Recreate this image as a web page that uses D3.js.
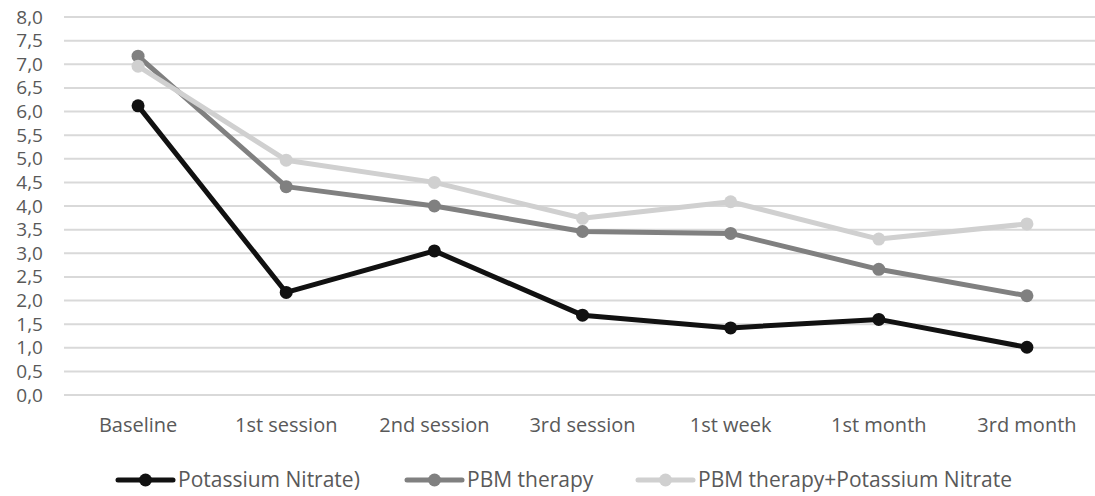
<!DOCTYPE html>
<html>
<head>
<meta charset="utf-8">
<script src="https://cdn.jsdelivr.net/npm/d3@7"></script>
<style>
  html, body { margin: 0; padding: 0; background: #ffffff; }
  svg { display: block; }
  text { font-family: "Open Sans", "Liberation Sans", sans-serif; fill: #595959; }
</style>
</head>
<body>
<svg id="chart" width="1095" height="496"></svg>
<script>
// Time points of the follow-up
const categories = ["Baseline", "1st session", "2nd session", "3rd session", "1st week", "1st month", "3rd month"];

// Mean scores per group
const potassiumNitrate = [6.12, 2.17, 3.05, 1.69, 1.42, 1.60, 1.01];
const pbmTherapy = [7.17, 4.41, 4.00, 3.46, 3.42, 2.66, 2.10];
const pbmPlusPotassium = [6.96, 4.97, 4.50, 3.74, 4.09, 3.30, 3.62];

const seriesNames = ["Potassium Nitrate)", "PBM therapy", "PBM therapy+Potassium Nitrate"];
const yTicks = [0, 0.5, 1, 1.5, 2, 2.5, 3, 3.5, 4, 4.5, 5, 5.5, 6, 6.5, 7, 7.5, 8];

const series = [
  { name: seriesNames[0], values: potassiumNitrate, color: "#111111" },
  { name: seriesNames[1], values: pbmTherapy, color: "#808080" },
  { name: seriesNames[2], values: pbmPlusPotassium, color: "#d0d0d0" }
];

const svg = d3.select("#chart");
const plotLeft = 64, plotRight = 1101, plotTop = 17, plotBottom = 395;

const x = d3.scaleBand().domain(categories).range([plotLeft, plotRight]);
const y = d3.scaleLinear().domain([0, 8]).range([plotBottom, plotTop]);
const fmt = v => d3.format(".1f")(v).replace(".", ",");

// Horizontal gridlines
svg.append("g")
  .selectAll("line")
  .data(yTicks)
  .join("line")
  .attr("x1", plotLeft).attr("x2", plotRight)
  .attr("y1", d => y(d)).attr("y2", d => y(d))
  .attr("stroke", "#d9d9d9")
  .attr("stroke-width", 2);

// Y axis labels
const yAxis = svg.append("g")
  .attr("transform", `translate(43,0)`)
  .call(d3.axisLeft(y).tickValues(yTicks).tickFormat(fmt).tickSize(0).tickPadding(0));
yAxis.select(".domain").remove();
yAxis.selectAll("text")
  .attr("font-size", 19)
  .attr("font-family", "'Open Sans', sans-serif")
  .attr("fill", "#595959");

// X axis labels
const xAxis = svg.append("g")
  .attr("transform", `translate(0,${plotBottom})`)
  .call(d3.axisBottom(x).tickSize(0).tickPadding(23));
xAxis.select(".domain").remove();
xAxis.selectAll("text")
  .attr("font-size", 20)
  .attr("font-family", "'Open Sans', sans-serif")
  .attr("fill", "#595959");

const line = d3.line()
  .x((d, i) => x(categories[i]) + x.bandwidth() / 2)
  .y(d => y(d));

// Series lines and markers
const groups = svg.append("g").selectAll("g")
  .data(series)
  .join("g");

groups.append("path")
  .attr("d", d => line(d.values))
  .attr("fill", "none")
  .attr("stroke", d => d.color)
  .attr("stroke-width", 5)
  .attr("stroke-linejoin", "round");

groups.each(function (s) {
  d3.select(this).selectAll("circle")
    .data(s.values)
    .join("circle")
    .attr("cx", (d, i) => x(categories[i]) + x.bandwidth() / 2)
    .attr("cy", d => y(d))
    .attr("r", 6.5)
    .attr("fill", s.color);
});

// Legend
const legendX = [118, 407, 638];
const legendY = 480;
const legend = svg.append("g").selectAll("g")
  .data(series)
  .join("g")
  .attr("transform", (d, i) => `translate(${legendX[i]},${legendY})`);

legend.append("line")
  .attr("x1", 0).attr("x2", 55)
  .attr("y1", 0).attr("y2", 0)
  .attr("stroke", d => d.color)
  .attr("stroke-width", 5)
  .attr("stroke-linecap", "round");
legend.append("circle")
  .attr("cx", 27.5).attr("cy", 0).attr("r", 6.5)
  .attr("fill", d => d.color);
legend.append("text")
  .attr("x", 60)
  .attr("y", 0)
  .attr("dy", "0.35em")
  .attr("font-size", 21)
  .text(d => d.name);
</script>
</body>
</html>
